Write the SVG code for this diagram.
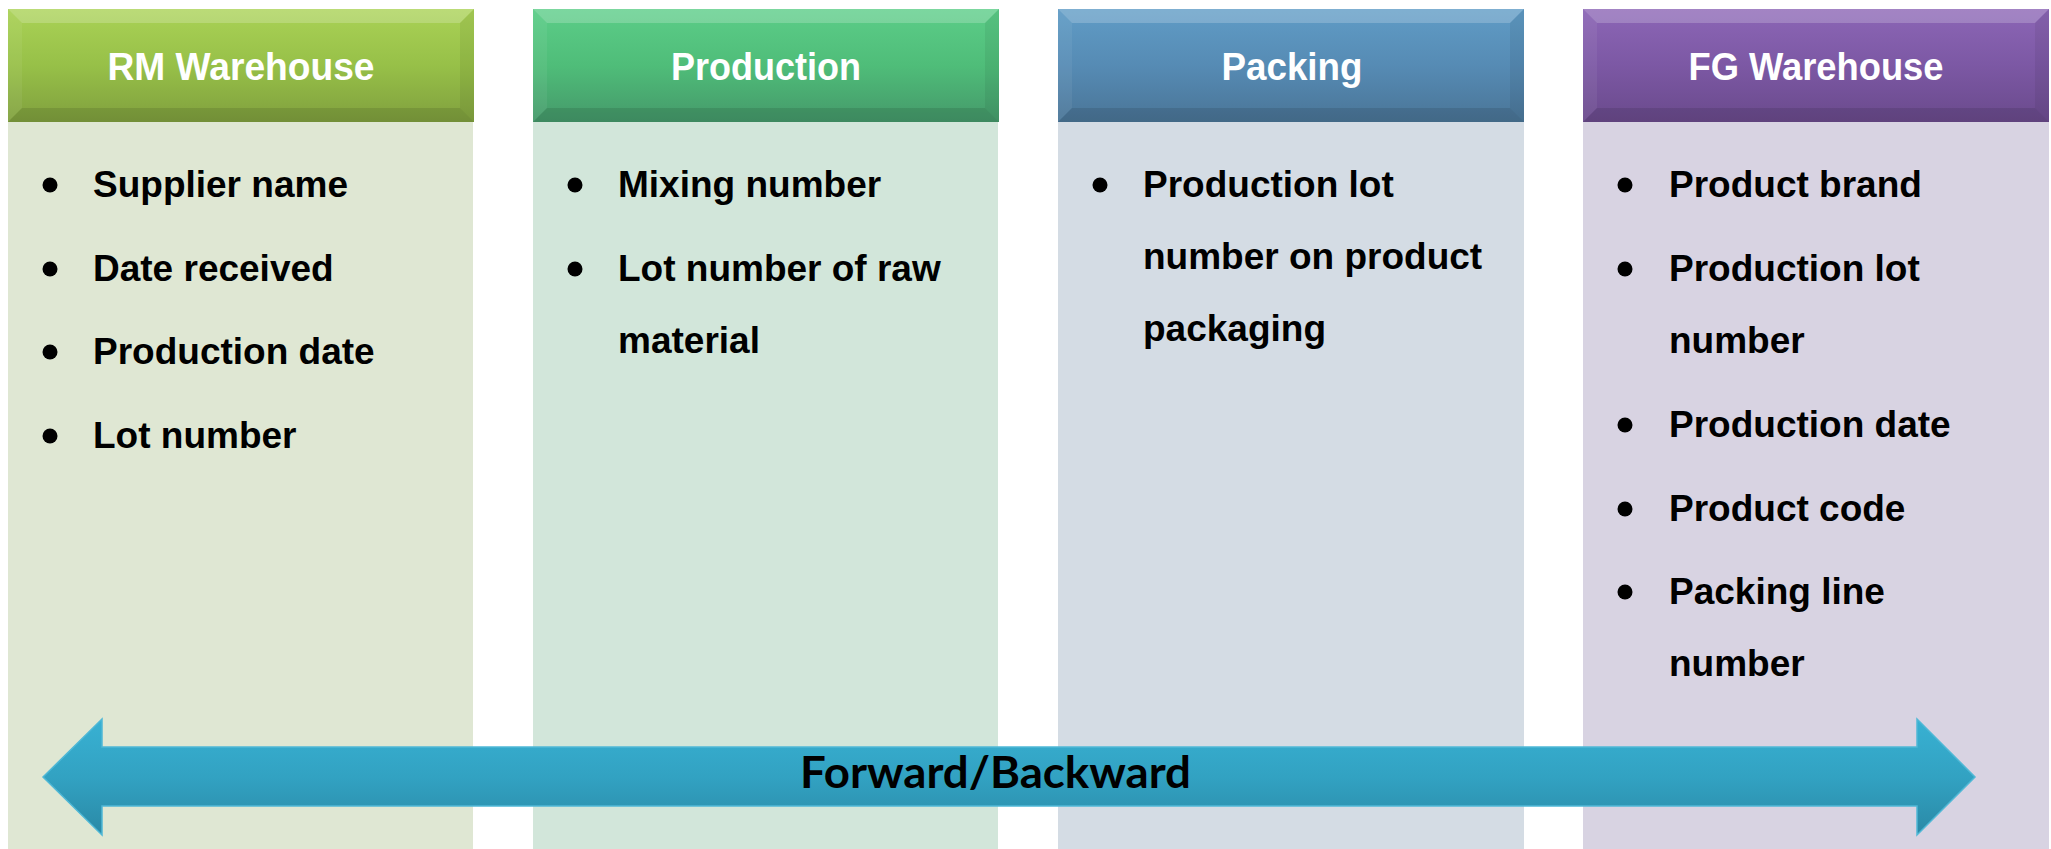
<svg xmlns="http://www.w3.org/2000/svg" width="2051" height="849" viewBox="0 0 2051 849">
<defs>
<style>
.title{font-family:"Liberation Sans",Arial,sans-serif;font-weight:bold;font-size:39px;fill:#ffffff;text-anchor:middle}
.item{font-family:"Liberation Sans",Arial,sans-serif;font-weight:bold;font-size:37px;fill:#000000}
.arrowtxt{font-family:Lato,"Open Sans",sans-serif;font-weight:bold;font-size:44px;fill:#000000}
.bevT{fill:#ffffff;fill-opacity:0.2}
.bevL{fill:#ffffff;fill-opacity:0.06}
.bevR{fill:#000000;fill-opacity:0.06}
.bevB{fill:#000000;fill-opacity:0.1}
</style>
<linearGradient id="g1" x1="0" y1="0" x2="0" y2="1"><stop offset="0" stop-color="#aad256"/><stop offset="0.5" stop-color="#97c048"/><stop offset="1" stop-color="#80a03e"/></linearGradient>
<linearGradient id="g2" x1="0" y1="0" x2="0" y2="1"><stop offset="0" stop-color="#5ccd88"/><stop offset="0.5" stop-color="#4fbd79"/><stop offset="1" stop-color="#45996a"/></linearGradient>
<linearGradient id="g3" x1="0" y1="0" x2="0" y2="1"><stop offset="0" stop-color="#609cc6"/><stop offset="0.5" stop-color="#568bb4"/><stop offset="1" stop-color="#4a7597"/></linearGradient>
<linearGradient id="g4" x1="0" y1="0" x2="0" y2="1"><stop offset="0" stop-color="#8c66b6"/><stop offset="0.5" stop-color="#7c58a4"/><stop offset="1" stop-color="#6a4a8c"/></linearGradient>
<linearGradient id="ga" x1="0" y1="0" x2="0" y2="1"><stop offset="0" stop-color="#38b1d3"/><stop offset="0.5" stop-color="#32a2c2"/><stop offset="1" stop-color="#2a89a6"/></linearGradient>
</defs>

<g id="col-rm">
<rect x="8" y="122" width="465" height="727" fill="#dfe7d3"/>
<rect x="8" y="9" width="466" height="113" fill="url(#g1)"/>
<polygon class="bevT" points="8,9 474,9 460,23 22,23"/>
<polygon class="bevL" points="8,9 22,23 22,108 8,122"/>
<polygon class="bevR" points="474,9 474,122 460,108 460,23"/>
<polygon class="bevB" points="8,122 22,108 460,108 474,122"/>
<text class="title" x="241" y="80" textLength="267" lengthAdjust="spacingAndGlyphs">RM Warehouse</text>
<circle cx="50" cy="185" r="7.5"/><text class="item" x="93" y="197">Supplier name</text>
<circle cx="50" cy="269" r="7.5"/><text class="item" x="93" y="281">Date received</text>
<circle cx="50" cy="352" r="7.5"/><text class="item" x="93" y="364">Production date</text>
<circle cx="50" cy="436" r="7.5"/><text class="item" x="93" y="448">Lot number</text>
</g>

<g id="col-production">
<rect x="533" y="122" width="465" height="727" fill="#d2e6da"/>
<rect x="533" y="9" width="466" height="113" fill="url(#g2)"/>
<polygon class="bevT" points="533,9 999,9 985,23 547,23"/>
<polygon class="bevL" points="533,9 547,23 547,108 533,122"/>
<polygon class="bevR" points="999,9 999,122 985,108 985,23"/>
<polygon class="bevB" points="533,122 547,108 985,108 999,122"/>
<text class="title" x="766" y="80" textLength="190" lengthAdjust="spacingAndGlyphs">Production</text>
<circle cx="575" cy="185" r="7.5"/><text class="item" x="618" y="197">Mixing number</text>
<circle cx="575" cy="269" r="7.5"/><text class="item" x="618" y="281">Lot number of raw</text>
<text class="item" x="618" y="353">material</text>
</g>

<g id="col-packing">
<rect x="1058" y="122" width="466" height="727" fill="#d4dce4"/>
<rect x="1058" y="9" width="466" height="113" fill="url(#g3)"/>
<polygon class="bevT" points="1058,9 1524,9 1510,23 1072,23"/>
<polygon class="bevL" points="1058,9 1072,23 1072,108 1058,122"/>
<polygon class="bevR" points="1524,9 1524,122 1510,108 1510,23"/>
<polygon class="bevB" points="1058,122 1072,108 1510,108 1524,122"/>
<text class="title" x="1292" y="80" textLength="141" lengthAdjust="spacingAndGlyphs">Packing</text>
<circle cx="1100" cy="185" r="7.5"/><text class="item" x="1143" y="197">Production lot</text>
<text class="item" x="1143" y="269">number on product</text>
<text class="item" x="1143" y="341">packaging</text>
</g>

<g id="col-fg">
<rect x="1583" y="122" width="466" height="727" fill="#d8d3e2"/>
<rect x="1583" y="9" width="466" height="113" fill="url(#g4)"/>
<polygon class="bevT" points="1583,9 2049,9 2035,23 1597,23"/>
<polygon class="bevL" points="1583,9 1597,23 1597,108 1583,122"/>
<polygon class="bevR" points="2049,9 2049,122 2035,108 2035,23"/>
<polygon class="bevB" points="1583,122 1597,108 2035,108 2049,122"/>
<text class="title" x="1816" y="80" textLength="255" lengthAdjust="spacingAndGlyphs">FG Warehouse</text>
<circle cx="1625" cy="185" r="7.5"/><text class="item" x="1669" y="197">Product brand</text>
<circle cx="1625" cy="269" r="7.5"/><text class="item" x="1669" y="281">Production lot</text>
<text class="item" x="1669" y="353">number</text>
<circle cx="1625" cy="425" r="7.5"/><text class="item" x="1669" y="437">Production date</text>
<circle cx="1625" cy="509" r="7.5"/><text class="item" x="1669" y="521">Product code</text>
<circle cx="1625" cy="592" r="7.5"/><text class="item" x="1669" y="604">Packing line</text>
<text class="item" x="1669" y="676">number</text>
</g>

<g id="connectors">
<g id="arrow-forward-backward">
<polygon points="43,777 102,719 102,747 1917,747 1917,719 1975,777 1917,835 1917,806 102,806 102,835" fill="url(#ga)" stroke="#4fb8d6" stroke-width="1.5" stroke-linejoin="miter"/>
<text class="arrowtxt" x="800" y="788" textLength="391" lengthAdjust="spacingAndGlyphs">Forward/Backward</text>
</g>
</g>
</svg>
